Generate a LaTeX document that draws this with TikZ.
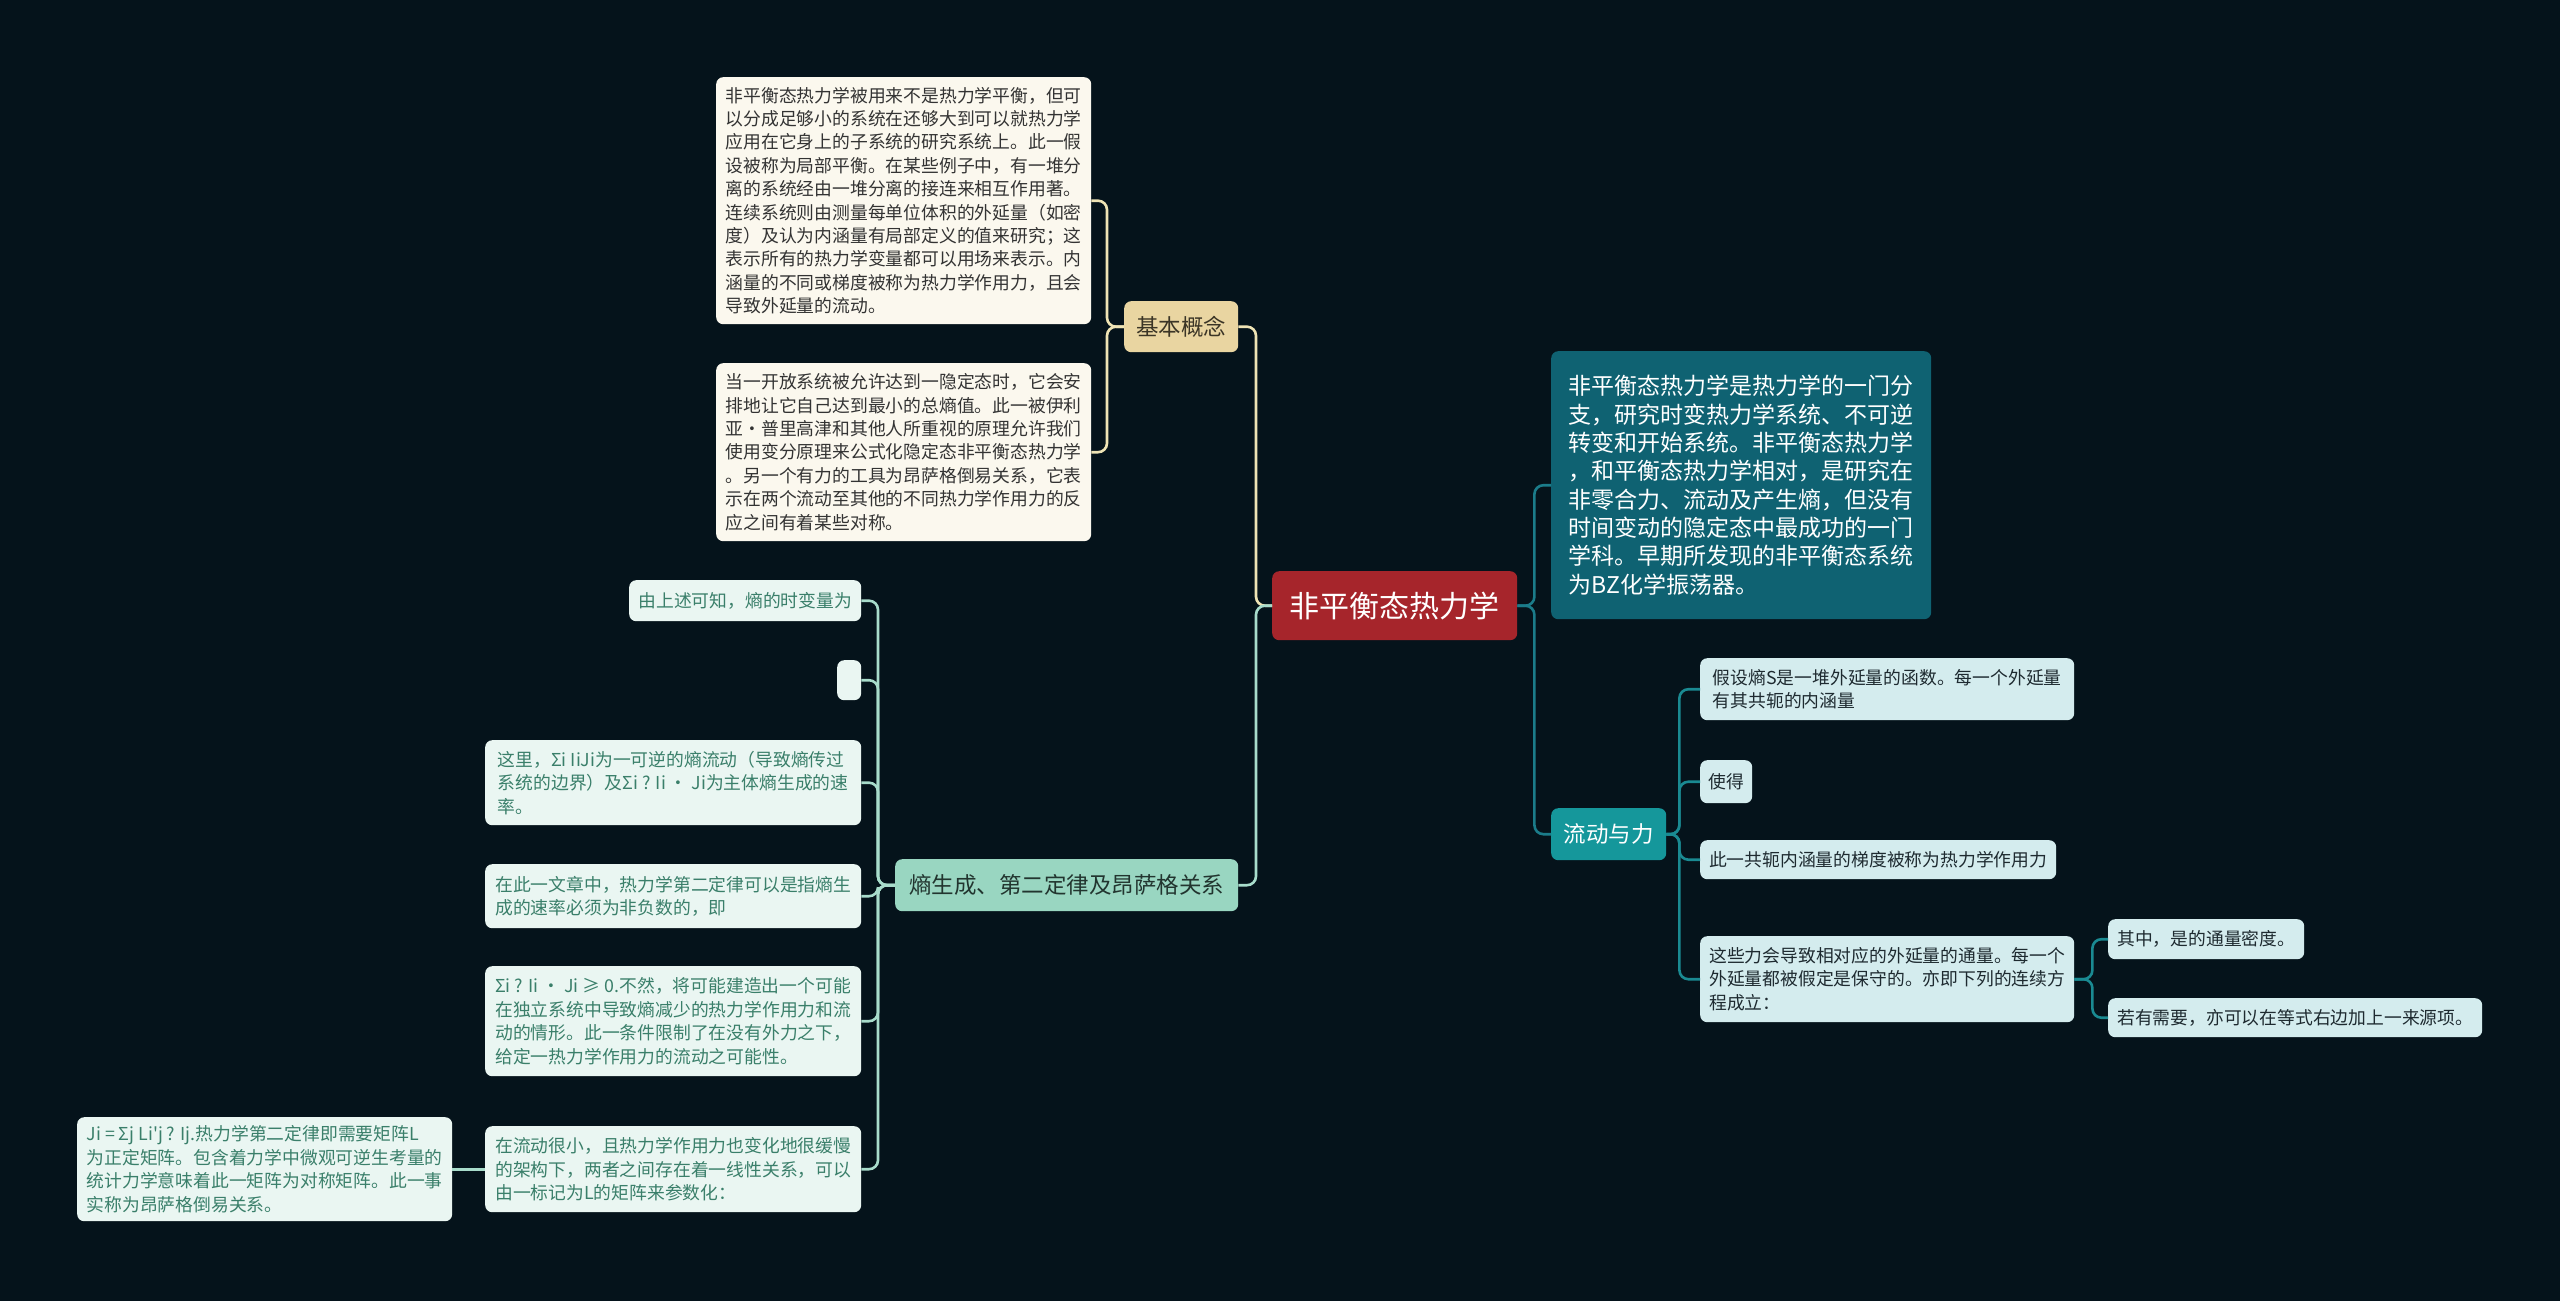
\documentclass[tikz,border=0pt]{standalone}
\usepackage{fontspec}
\setmainfont{Noto Sans CJK SC}[Ligatures=TeXOff]
\definecolor{bg}{HTML}{05131B}
\definecolor{rootfill}{HTML}{A6252B}
\definecolor{basicfill}{HTML}{E9D5A1}
\definecolor{basictext}{HTML}{3B3526}
\definecolor{creamfill}{HTML}{FBF8EE}
\definecolor{creamline}{HTML}{EFE4B5}
\definecolor{entfill}{HTML}{99D6C1}
\definecolor{enttext}{HTML}{22352F}
\definecolor{mintfill}{HTML}{EAF6F2}
\definecolor{minttext}{HTML}{3A7F6A}
\definecolor{mintline}{HTML}{A8DCCB}
\definecolor{descfill}{HTML}{0F6272}
\definecolor{descline}{HTML}{1B7C8A}
\definecolor{flowfill}{HTML}{15979B}
\definecolor{flowline}{HTML}{1A8A92}
\definecolor{cyanfill}{HTML}{D4ECEE}
\definecolor{cyantext}{HTML}{1E2A30}
\tikzset{
  box/.style={rounded corners=7, anchor=north west, inner sep=0pt, align=left, draw=none},
  small/.style={font=\fontsize{17.8}{23.4}\selectfont},
  rootbox/.style={box, fill=rootfill, text=white, font=\fontsize{30}{36}\selectfont},
  basicbox/.style={box, fill=basicfill, text=basictext, font=\fontsize{22.5}{27}\selectfont},
  creambox/.style={box, small, fill=creamfill, text=black!80},
  entbox/.style={box, fill=entfill, text=enttext, font=\fontsize{22.5}{27}\selectfont},
  mintbox/.style={box, small, fill=mintfill, text=minttext},
  descbox/.style={box, fill=descfill, text=white, font=\fontsize{23}{28.3}\selectfont},
  flowbox/.style={box, fill=flowfill, text=white, font=\fontsize{22.5}{27}\selectfont},
  cyanbox/.style={box, small, fill=cyanfill, text=cyantext},
  conn/.style={line width=2.6pt, rounded corners=9pt},
  creamconn/.style={conn, draw=creamline},
  mintconn/.style={conn, draw=mintline},
  descconn/.style={conn, draw=descline},
  flowconn/.style={conn, draw=flowline},
}
\begin{document}
\begin{tikzpicture}[x=1pt,y=-1pt]
\fill[bg] (0,0) rectangle (2560,1301);
\useasboundingbox (0,0) rectangle (2560,1301);

% root
\node[rootbox, minimum width=245, minimum height=69] (root) at (1272,571) {非平衡态热力学};

% left upper branch
\node[basicbox, minimum width=114, minimum height=51] (basic) at (1124,301) {基本概念};
\node[creambox, minimum width=375, minimum height=247] (b1) at (716,77) {非平衡态热力学被用来不是热力学平衡，但可\\以分成足够小的系统在还够大到可以就热力学\\应用在它身上的子系统的研究系统上。此一假\\设被称为局部平衡。在某些例子中，有一堆分\\离的系统经由一堆分离的接连来相互作用著。\\连续系统则由测量每单位体积的外延量（如密\\度）及认为内涵量有局部定义的值来研究；这\\表示所有的热力学变量都可以用场来表示。内\\涵量的不同或梯度被称为热力学作用力，且会\\导致外延量的流动。};
\node[creambox, minimum width=375, minimum height=178] (b2) at (716,363) {当一开放系统被允许达到一隐定态时，它会安\\排地让它自己达到最小的总熵值。此一被伊利\\亚·普里高津和其他人所重视的原理允许我们\\使用变分原理来公式化隐定态非平衡态热力学\\。另一个有力的工具为昂萨格倒易关系，它表\\示在两个流动至其他的不同热力学作用力的反\\应之间有着某些对称。};

% left lower branch
\node[entbox, minimum width=343, minimum height=52] (ent) at (895,859) {熵生成、第二定律及昂萨格关系};
\node[mintbox, minimum width=232, minimum height=41] (c1) at (629,580) {由上述可知，熵的时变量为};
\node[mintbox, minimum width=24, minimum height=40] (c2) at (837,660) {};
\node[mintbox, minimum width=376, minimum height=85] (c3) at (485,740) {这里，Σi IiJi为一可逆的熵流动（导致熵传过\\系统的边界）及Σi ? Ii · Ji为主体熵生成的速\\率。};
\node[mintbox, minimum width=376, minimum height=64] (c4) at (485,864) {在此一文章中，热力学第二定律可以是指熵生\\成的速率必须为非负数的，即};
\node[mintbox, minimum width=376, minimum height=110] (c5) at (485,966) {Σi ? Ii · Ji ≥ 0.不然，将可能建造出一个可能\\在独立系统中导致熵减少的热力学作用力和流\\动的情形。此一条件限制了在没有外力之下，\\给定一热力学作用力的流动之可能性。};
\node[mintbox, minimum width=376, minimum height=86] (c6) at (485,1126) {在流动很小，且热力学作用力也变化地很缓慢\\的架构下，两者之间存在着一线性关系，可以\\由一标记为L的矩阵来参数化：};
\node[mintbox, minimum width=375, minimum height=104] (c7) at (77,1117) {Ji = Σj Li'j ? Ij.热力学第二定律即需要矩阵L\\为正定矩阵。包含着力学中微观可逆生考量的\\统计力学意味着此一矩阵为对称矩阵。此一事\\实称为昂萨格倒易关系。};

% right branch
\node[descbox, minimum width=380, minimum height=268] (desc) at (1551,351) {非平衡态热力学是热力学的一门分\\支，研究时变热力学系统、不可逆\\转变和开始系统。非平衡态热力学\\，和平衡态热力学相对，是研究在\\非零合力、流动及产生熵，但没有\\时间变动的隐定态中最成功的一门\\学科。早期所发现的非平衡态系统\\为BZ化学振荡器。};
\node[flowbox, minimum width=115, minimum height=52] (flow) at (1551,808) {流动与力};
\node[cyanbox, minimum width=374, minimum height=62] (f1) at (1700,658) {假设熵S是一堆外延量的函数。每一个外延量\\有其共轭的内涵量};
\node[cyanbox, minimum width=52, minimum height=43] (f2) at (1700,760) {使得};
\node[cyanbox, minimum width=356, minimum height=39] (f3) at (1700,840) {此一共轭内涵量的梯度被称为热力学作用力};
\node[cyanbox, minimum width=374, minimum height=86] (f4) at (1700,936) {这些力会导致相对应的外延量的通量。每一个\\外延量都被假定是保守的。亦即下列的连续方\\程成立：};
\node[cyanbox, minimum width=196, minimum height=40] (g1) at (2108,919) {其中，是的通量密度。};
\node[cyanbox, minimum width=374, minimum height=39] (g2) at (2108,998) {若有需要，亦可以在等式右边加上一来源项。};

% connectors
\draw[creamconn] (root.west) -- ++(-16,0) |- (basic.east);
\draw[mintconn] (root.west) -- ++(-16,0) |- (ent.east);
\draw[creamconn] (basic.west) -- ++(-17,0) |- (b1.east);
\draw[creamconn] (basic.west) -- ++(-17,0) |- (b2.east);
\foreach \c in {c1,c2,c3,c4,c5,c6}
  \draw[mintconn] (ent.west) -- ++(-17,0) |- (\c.east);
\draw[mintconn] (c6.west) -- (c7.east);
\draw[descconn] (root.east) -- ++(17,0) |- (desc.west);
\draw[descconn] (root.east) -- ++(17,0) |- (flow.west);
\foreach \f in {f1,f2,f3,f4}
  \draw[flowconn] (flow.east) -- ++(13,0) |- (\f.west);
\foreach \g in {g1,g2}
  \draw[flowconn] (f4.east) -- ++(18,0) |- (\g.west);
\end{tikzpicture}
\end{document}
